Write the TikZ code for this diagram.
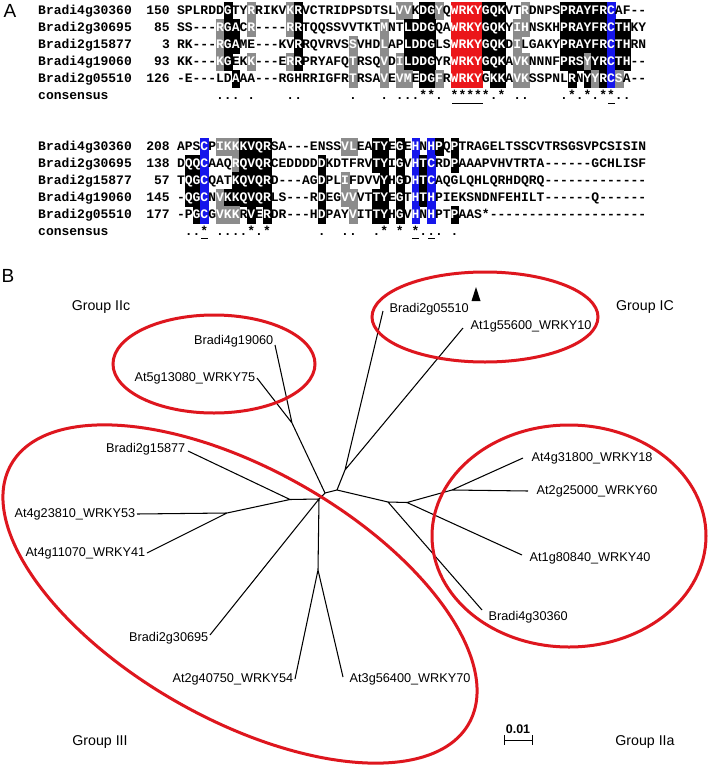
\documentclass[tikz,border=0pt]{standalone}
\usepackage{fontspec}
\setmainfont{Liberation Sans}
\newfontfamily\monof{Liberation Mono}
\definecolor{algrey}{RGB}{140,140,140}
\definecolor{alred}{RGB}{235,22,26}
\definecolor{alblue}{RGB}{22,22,235}
\definecolor{ellred}{RGB}{222,22,30}
\newcommand\alnfont{\monof\bfseries\fontsize{13pt}{13pt}\selectfont}
\newcount\alncol
\def\seqxo{177}
\def\cw{7.82}
\newcommand\alnrow[4]{\global\alncol=0 \def\alnID{#1}\def\alnY{#2}\alnloop#3\relax#4\relax}
\def\alnloop#1#2\relax#3#4\relax{%
  \global\advance\alncol by 1
  \alncell{#1}{#3}%
  \if\relax\detokenize{#2}\relax\else\alnloop#2\relax#4\relax\fi}
\newcommand\alncell[2]{%
  \pgfmathsetmacro\alnX{\seqxo+(\the\alncol-0.5)*\cw}%
  \node[cell#2] (s\alnID-\the\alncol) at (\alnX,\alnY) {#1};}
\tikzset{
 cellbase/.style={inner sep=0pt, outer sep=0pt, minimum width=7.82pt, minimum height=17pt, text height=8.6pt, text depth=2.4pt, font=\alnfont},
 celln/.style={cellbase, text=black},
 cellb/.style={cellbase, fill=black, draw=black, line width=0.2pt, text=white},
 cellg/.style={cellbase, fill=algrey, draw=algrey, line width=0.2pt, text=white},
 cellr/.style={cellbase, fill=alred, draw=alred, line width=0.2pt, text=white},
 cellu/.style={cellbase, fill=alblue, draw=alblue, line width=0.2pt, text=white},
 seqname/.style={anchor=west, inner sep=0pt, text height=8.6pt, text depth=2.4pt, font=\alnfont},
 seqnum/.style={anchor=east, inner sep=0pt, text height=8.6pt, text depth=2.4pt, font=\alnfont},
 panel/.style={inner sep=0pt, font=\fontsize{19pt}{20pt}\selectfont},
 branch/.style={line width=1.05pt, black},
 leaf/.style={inner sep=0.5pt, font=\fontsize{12.7pt}{14pt}\selectfont},
 grp/.style={inner sep=0pt, font=\fontsize{14.2pt}{16pt}\selectfont},
 ring/.style={draw=ellred, line width=3pt},
 uline/.style={line width=1pt, black}
}
\begin{document}
\begin{tikzpicture}[x=1pt,y=-1pt]
\fill[white] (0,0) rectangle (711,766);
\useasboundingbox (0,0) rectangle (711,766);

% ---------- Panel A ----------
\node[panel] (pA) at (10,11) {A};

% block 1
\node[seqname] (na1) at (38,11) {Bradi4g30360};
\node[seqnum] (ma1) at (170,11) {150};
\alnrow{a1}{11}{SPLRDDGTYRRIKVKRVCTRIDPSDTSLVVKDGYQWRKYGQKVTRDNPSPRAYFRCAF--}{nnnnnn b nn g nnnn g b nnnnnn nnnnnn gg n bb g n rrrr bbb nn g nnnn bbbbbb u nnnn}
\node[seqname] (na2) at (38,28) {Bradi2g30695};
\node[seqnum] (ma2) at (170,28) {85};
\alnrow{a2}{28}{SS---RGACR----RRTQQSSVVTKTMNTLDDGQAWRKYGQKYIHNSKHPRAYFRCTHKY}{nnnnn g bb n g nnnn g b nnnnn nnnnn g nn bbbb nn rrrr bbb n gg nnnn bbbbbb u bb nn}
\node[seqname] (na3) at (38,45) {Bradi2g15877};
\node[seqnum] (ma3) at (170,45) {3};
\alnrow{a3}{45}{RK---RGAME---KVRRQVRVSSVHDLAPLDDGLSWRKYGQKDILGAKYPRAYFRCTHRN}{nnnnn g bb nnnnnnn b nnnnnn g nnn g nn bbbb nn rrrr bbb n g nnnnn bbbbbb u bb nn}
\node[seqname] (na4) at (38,62) {Bradi4g19060};
\node[seqnum] (ma4) at (170,62) {93};
\alnrow{a4}{62}{KK---KGEKK---ERRPRYAFQTRSQVDILDDGYRWRKYGQKAVKNNNFPRSYYRCTH--}{nnnnn g b nn g nnnn g b nnnnnn g nnn g n g bbbb nn rrrr bbb n gg nnnn bbb g bb u bb nn}
\node[seqname] (na5) at (38,79) {Bradi2g05510};
\node[seqnum] (ma5) at (170,79) {126};
\alnrow{a5}{79}{-E---LDAAA---RGHRRIGFRTRSAVEVMEDGFRWRKYGKKAVKSSPNLRNYYRCSA--}{nnnnnnn b nnnnnnn nnnnnnn g nnn g n gg n bb g n rrrr n bb n gg nnnnn b n b g b u g nnn}
\node[seqname] (na6) at (38,96) {consensus};
\foreach \c/\s in {6/.,7/.,8/.,10/.,15/.,16/.,23/.,27/.,29/.,30/.,31/.,32/*,33/*,34/.,36/*,37/*,38/*,39/*,40/*,41/.,42/*,44/.,45/.,50/.,51/*,52/.,53/*,54/.,55/*,56/*,57/.,58/.}
  \node[celln] (ca-\c) at ({\seqxo+(\c-0.5)*\cw},96) {\s};
\draw[uline] (452,103) -- (483,103);
\draw[uline] (608,103) -- (615,103);

% block 2
\node[seqname] (nb1) at (38,147) {Bradi4g30360};
\node[seqnum] (mb1) at (170,147) {208};
\alnrow{b1}{147}{APSCPIKKKVQRSA---ENSSVLEATYEGEHNHPQPTRAGELTSSCVTRSGSVPCSISIN}{nnn u n ggg bbbb nnnnnnnnn gg nn bb n b n u n u b n b nnnnnnnnnnnn nnnnnnnnnnnn}
\node[seqname] (nb2) at (38,164) {Bradi2g30695};
\node[seqnum] (mb2) at (170,164) {138};
\alnrow{b2}{164}{DQQCAAQRQVQRCEDDDDDKDTFRVTYIGVHTCRDPAAAPVHVTRTA------GCHLISF}{n bb u nnn g bbbb nnnnnn b nnnnnn bb n b n u b u nn b nnnnnnnnnnnn nnnnnnnnnnnn}
\node[seqname] (nb3) at (38,181) {Bradi2g15877};
\node[seqnum] (mb3) at (170,181) {57};
\alnrow{b3}{181}{TQGCQATKQVQRD---AGDPLIFDVVYHGDHTCAQGLQHLQRHDQRQ-------------}{n bb u nnn bbbbb nnnnnn b nn g nnnn b n b n u b u nnnnnnnnn nnnnnnnnn nnnnnnnnn}
\node[seqname] (nb4) at (38,198) {Bradi4g19060};
\node[seqnum] (mb4) at (170,198) {145};
\alnrow{b4}{198}{-QGCNVKKQVQRLS---RDEGVVVTTYEGTHTHPIEKSNDNFEHILT------Q------}{n bb u n g bbbbbb nnnnnn b nn gg nn bb n b n u b u nnnnnnnnn nnnnnnnnn nnnnnnnnn}
\node[seqname] (nb5) at (38,215) {Bradi2g05510};
\node[seqnum] (mb5) at (170,215) {177};
\alnrow{b5}{215}{-PGCGVKKRVERDR---HDPAYVITTYHGVHNHPTPAAS*--------------------}{nn b u n ggg n b n b nnnnnn b nnn g nn bb n b n u n u nn b nnnnnnnnnnnn nnnnnnnnnnnn}
\node[seqname] (nb6) at (38,232) {consensus};
\foreach \c/\s in {2/.,3/.,4/*,6/.,7/.,8/.,9/.,10/*,11/.,12/*,19/.,22/.,23/.,26/.,27/*,29/*,31/*,32/.,33/.,34/.,36/.}
  \node[celln] (cb-\c) at ({\seqxo+(\c-0.5)*\cw},232) {\s};
\draw[uline] (201,238) -- (208,238);
\draw[uline] (412,238) -- (419,238);
\draw[uline] (428,238) -- (435,238);

% ---------- Panel B ----------
\node[panel] (pB) at (8,276) {B};

% internal nodes
\coordinate (nIIc) at (292,423);
\coordinate (nM) at (325,493);
\coordinate (nA) at (319,499);
\coordinate (nIII) at (290,499.5);
\coordinate (n5341) at (227,513);
\coordinate (n5470) at (318,570);
\coordinate (nB) at (337,490);
\coordinate (nIC) at (345,470);
\coordinate (nC) at (388,502);
\coordinate (nD) at (407,502.5);
\coordinate (nIIa) at (452,490);

% leaf tips
\coordinate (t19060) at (275,345);
\coordinate (t75) at (257,378);
\coordinate (t15877) at (188,451);
\coordinate (t53) at (137,514);
\coordinate (t41) at (147,553);
\coordinate (t30695) at (210,635);
\coordinate (t54) at (295,679);
\coordinate (t70) at (343,677);
\coordinate (t30360) at (482,610);
\coordinate (t40) at (522,555);
\coordinate (t60) at (528,491);
\coordinate (t18) at (523,458);
\coordinate (t10) at (463,328);
\coordinate (t05510) at (383,311);

\draw[branch] (nIIc) -- (t19060) (nIIc) -- (t75) (nIIc) -- (nM)
  (nM) -- (nA) (nM) -- (nB)
  (nA) -- (nIII) (nIII) -- (t15877) (nIII) -- (n5341)
  (n5341) -- (t53) (n5341) -- (t41)
  (nA) -- (t30695) (nA) -- (n5470) (n5470) -- (t54) (n5470) -- (t70)
  (nB) -- (nIC) (nIC) -- (t05510) (nIC) -- (t10)
  (nB) -- (nC) (nC) -- (t30360) (nC) -- (nD)
  (nD) -- (nIIa) (nD) -- (t40) (nIIa) -- (t18) (nIIa) -- (t60);

% group rings
\draw[ring] (214,364) ellipse [x radius=101pt, y radius=49pt];
\draw[ring] (485,317) ellipse [x radius=113pt, y radius=45pt];
\draw[ring] (569,536) ellipse [x radius=137pt, y radius=111pt];
\draw[ring, rotate around={-29.5:(240,594)}] (240,594) ellipse [x radius=263pt, y radius=125pt];

% leaf labels
\node[leaf, anchor=east] (L19060) at (274,341) {Bradi4g19060};
\node[leaf, anchor=east] (L75) at (256,378) {At5g13080\_WRKY75};
\node[leaf, anchor=east] (L15877) at (186,449) {Bradi2g15877};
\node[leaf, anchor=east] (L53) at (136,514) {At4g23810\_WRKY53};
\node[leaf, anchor=east] (L41) at (146,553) {At4g11070\_WRKY41};
\node[leaf, anchor=east] (L30695) at (209,638) {Bradi2g30695};
\node[leaf, anchor=east] (L54) at (294,679) {At2g40750\_WRKY54};
\node[leaf, anchor=west] (L70) at (349,679) {At3g56400\_WRKY70};
\node[leaf, anchor=west] (L30360) at (488,617) {Bradi4g30360};
\node[leaf, anchor=west] (L40) at (529,558) {At1g80840\_WRKY40};
\node[leaf, anchor=west] (L60) at (536,491) {At2g25000\_WRKY60};
\node[leaf, anchor=west] (L18) at (531,458) {At4g31800\_WRKY18};
\node[leaf, anchor=west] (L10) at (470,326) {At1g55600\_WRKY10};
\node[leaf, anchor=west] (L05510) at (389,309) {Bradi2g05510};

% marker triangle
\fill[black] (476,287) -- (480.5,301) -- (471.5,301) -- cycle;

% group labels
\node[grp] (gIIc) at (101,307) {Group IIc};
\node[grp] (gIC) at (645,307) {Group IC};
\node[grp] (gIII) at (100,742) {Group III};
\node[grp] (gIIa) at (645,742) {Group IIa};

% scale bar
\node[inner sep=0pt, font=\bfseries\fontsize{12.5pt}{13pt}\selectfont] (sc) at (518,729) {0.01};
\draw[line width=1pt] (504,735) -- (504,745) (504,740) -- (532,740) (532,735) -- (532,745);
\end{tikzpicture}
\end{document}
